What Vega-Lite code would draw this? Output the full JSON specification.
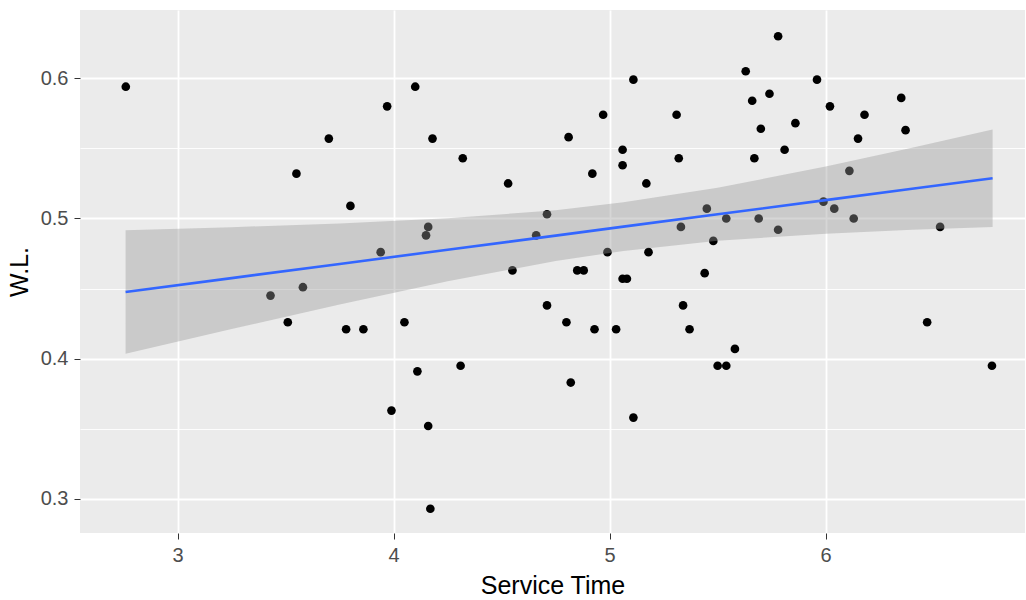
{
  "$schema": "https://vega.github.io/schema/vega-lite/v6.json",
  "width": 945,
  "height": 523,
  "autosize": {"type": "none"},
  "padding": {"left": 80, "top": 10, "right": 1, "bottom": 67},
  "background": "#FFFFFF",
  "config": {
    "view": {"fill": "#EBEBEB", "stroke": null},
    "font": "Liberation Sans",
    "axis": {
      "domain": false,
      "gridColor": "#FFFFFF",
      "tickColor": "#333333",
      "tickSize": 6,
      "labelColor": "#4D4D4D",
      "labelFont": "Liberation Sans",
      "labelFontSize": 20,
      "labelPadding": 6,
      "titleFont": "Liberation Sans",
      "titleFontSize": 25,
      "titleFontWeight": "normal",
      "titleColor": "#000000"
    }
  },
  "datasets": {
    "points": [
      {"x": 2.76, "y": 0.594}, {"x": 3.43, "y": 0.445}, {"x": 3.51, "y": 0.426}, {"x": 3.55, "y": 0.532},
      {"x": 3.58, "y": 0.451}, {"x": 3.70, "y": 0.557}, {"x": 3.78, "y": 0.421}, {"x": 3.80, "y": 0.509},
      {"x": 3.86, "y": 0.421}, {"x": 3.94, "y": 0.476}, {"x": 3.97, "y": 0.580}, {"x": 3.99, "y": 0.363},
      {"x": 4.05, "y": 0.426}, {"x": 4.10, "y": 0.594}, {"x": 4.11, "y": 0.391}, {"x": 4.15, "y": 0.488},
      {"x": 4.16, "y": 0.494}, {"x": 4.16, "y": 0.352}, {"x": 4.17, "y": 0.293}, {"x": 4.18, "y": 0.557},
      {"x": 4.31, "y": 0.395}, {"x": 4.32, "y": 0.543}, {"x": 4.53, "y": 0.525}, {"x": 4.55, "y": 0.463},
      {"x": 4.66, "y": 0.488}, {"x": 4.71, "y": 0.503}, {"x": 4.71, "y": 0.438}, {"x": 4.80, "y": 0.426},
      {"x": 4.81, "y": 0.558}, {"x": 4.82, "y": 0.383}, {"x": 4.85, "y": 0.463}, {"x": 4.88, "y": 0.463},
      {"x": 4.92, "y": 0.532}, {"x": 4.93, "y": 0.421}, {"x": 4.97, "y": 0.574}, {"x": 4.99, "y": 0.476},
      {"x": 5.03, "y": 0.421}, {"x": 5.06, "y": 0.549}, {"x": 5.06, "y": 0.538}, {"x": 5.06, "y": 0.457},
      {"x": 5.08, "y": 0.457}, {"x": 5.11, "y": 0.599}, {"x": 5.11, "y": 0.358}, {"x": 5.17, "y": 0.525},
      {"x": 5.18, "y": 0.476}, {"x": 5.31, "y": 0.574}, {"x": 5.32, "y": 0.543}, {"x": 5.33, "y": 0.494},
      {"x": 5.34, "y": 0.438}, {"x": 5.37, "y": 0.421}, {"x": 5.44, "y": 0.461}, {"x": 5.45, "y": 0.507},
      {"x": 5.48, "y": 0.484}, {"x": 5.50, "y": 0.395}, {"x": 5.54, "y": 0.395}, {"x": 5.54, "y": 0.500},
      {"x": 5.58, "y": 0.407}, {"x": 5.63, "y": 0.605}, {"x": 5.66, "y": 0.584}, {"x": 5.67, "y": 0.543},
      {"x": 5.69, "y": 0.500}, {"x": 5.70, "y": 0.564}, {"x": 5.74, "y": 0.589}, {"x": 5.78, "y": 0.630},
      {"x": 5.78, "y": 0.492}, {"x": 5.81, "y": 0.549}, {"x": 5.86, "y": 0.568}, {"x": 5.96, "y": 0.599},
      {"x": 5.99, "y": 0.512}, {"x": 6.02, "y": 0.580}, {"x": 6.04, "y": 0.507}, {"x": 6.11, "y": 0.534},
      {"x": 6.13, "y": 0.500}, {"x": 6.15, "y": 0.557}, {"x": 6.18, "y": 0.574}, {"x": 6.35, "y": 0.586},
      {"x": 6.37, "y": 0.563}, {"x": 6.47, "y": 0.426}, {"x": 6.53, "y": 0.494}, {"x": 6.77, "y": 0.395}
    ],
    "fit": [
      {"x": 2.759, "fit": 0.4476, "lo": 0.4035, "hi": 0.4917},
      {"x": 3.25, "fit": 0.4575, "lo": 0.4212, "hi": 0.4938},
      {"x": 3.75, "fit": 0.4676, "lo": 0.4387, "hi": 0.4965},
      {"x": 4.25, "fit": 0.4777, "lo": 0.4553, "hi": 0.5001},
      {"x": 4.75, "fit": 0.4878, "lo": 0.4697, "hi": 0.5059},
      {"x": 5.064, "fit": 0.4942, "lo": 0.4769, "hi": 0.5115},
      {"x": 5.5, "fit": 0.5030, "lo": 0.4841, "hi": 0.5219},
      {"x": 6.0, "fit": 0.5131, "lo": 0.4892, "hi": 0.5370},
      {"x": 6.4, "fit": 0.5212, "lo": 0.4920, "hi": 0.5504},
      {"x": 6.773, "fit": 0.5287, "lo": 0.4940, "hi": 0.5634}
    ]
  },
  "layer": [
    {
      "data": {"name": "points"},
      "mark": {"type": "circle", "size": 75, "color": "#000000", "opacity": 1},
      "encoding": {
        "x": {
          "field": "x", "type": "quantitative",
          "scale": {"domain": [2.548, 6.923], "nice": false, "zero": false},
          "axis": {
            "title": "Service Time",
            "values": [3, 3.5, 4, 4.5, 5, 5.5, 6, 6.5],
            "format": "d",
            "labelExpr": "datum.value % 1 == 0 ? datum.label : ''",
            "gridWidth": {"condition": {"test": "datum.value % 1 == 0", "value": 1.8}, "value": 0.9},
            "tickOpacity": {"condition": {"test": "datum.value % 1 == 0", "value": 1}, "value": 0},
            "titlePadding": 8
          }
        },
        "y": {
          "field": "y", "type": "quantitative",
          "scale": {"domain": [0.2757, 0.6487], "nice": false, "zero": false},
          "axis": {
            "title": "W.L.",
            "values": [0.3, 0.35, 0.4, 0.45, 0.5, 0.55, 0.6],
            "format": ".1f",
            "labelExpr": "abs(datum.value * 10 - round(datum.value * 10)) < 0.001 ? datum.label : ''",
            "gridWidth": {"condition": {"test": "abs(datum.value * 10 - round(datum.value * 10)) < 0.001", "value": 1.8}, "value": 0.9},
            "tickOpacity": {"condition": {"test": "abs(datum.value * 10 - round(datum.value * 10)) < 0.001", "value": 1}, "value": 0},
            "titlePadding": 8
          }
        }
      }
    },
    {
      "data": {"name": "fit"},
      "mark": {"type": "area", "color": "#999999", "opacity": 0.4},
      "encoding": {
        "x": {"field": "x", "type": "quantitative"},
        "y": {"field": "lo", "type": "quantitative"},
        "y2": {"field": "hi"}
      }
    },
    {
      "data": {"name": "fit"},
      "mark": {"type": "line", "color": "#3366FF", "strokeWidth": 2.6},
      "encoding": {
        "x": {"field": "x", "type": "quantitative"},
        "y": {"field": "fit", "type": "quantitative"}
      }
    }
  ]
}
